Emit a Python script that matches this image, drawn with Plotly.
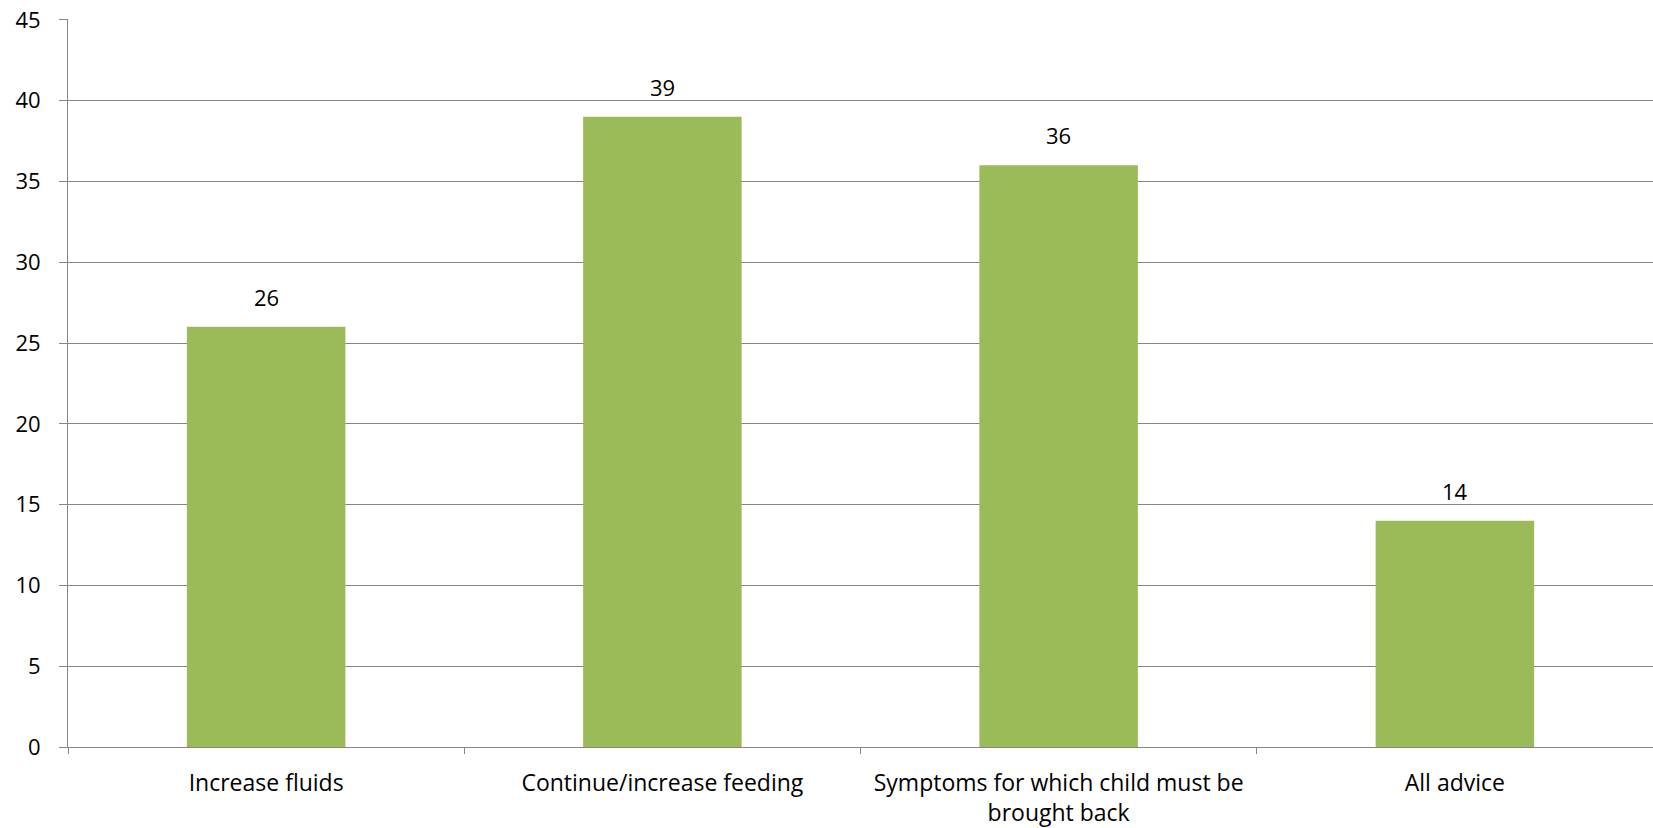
import plotly.graph_objects as go

categories = ["Increase fluids", "Continue/increase feeding",
              "Symptoms for which child must be<br>brought back", "All advice"]
values = [26, 39, 36, 14]
y_ticks = [0, 5, 10, 15, 20, 25, 30, 35, 40, 45]

FONT = "Open Sans"
GRID = "#868686"
FS = 23

fig = go.Figure()
fig.add_trace(go.Bar(x=categories, y=values, marker=dict(color="#9BBB59", line=dict(width=0)),
                     width=0.4, showlegend=False, hoverinfo="x+y"))

for c, v in zip(categories, values):
    fig.add_annotation(x=c, y=v, text=str(v), showarrow=False, yanchor="bottom",
                       yshift=13, font=dict(family=FONT, size=FS - 1, color="black"))

fig.update_layout(
    width=1653, height=828,
    margin=dict(l=68, r=0, t=19, b=81),
    paper_bgcolor="white", plot_bgcolor="white",
    font=dict(family=FONT, size=FS, color="black"),
    bargap=0.6,
)
fig.update_xaxes(showline=True, linecolor=GRID, linewidth=1, ticks="outside", tickson="boundaries",
                 ticklen=6, tickcolor=GRID, showgrid=False, tickfont=dict(size=FS, family=FONT),
                 automargin=False, ticklabelstandoff=15)
fig.update_yaxes(range=[0, 45.05], tickvals=y_ticks, showline=True, linecolor=GRID, linewidth=1,
                 ticks="outside", ticklen=8, tickcolor=GRID, showgrid=True, gridcolor=GRID,
                 gridwidth=1, zeroline=False, tickfont=dict(size=FS - 1, family=FONT),
                 ticklabelstandoff=14, automargin=False, ticklabeloverflow="allow")

fig.write_html("out.html", config={"displayModeBar": False},
               post_script="document.body.style.margin='0';")
